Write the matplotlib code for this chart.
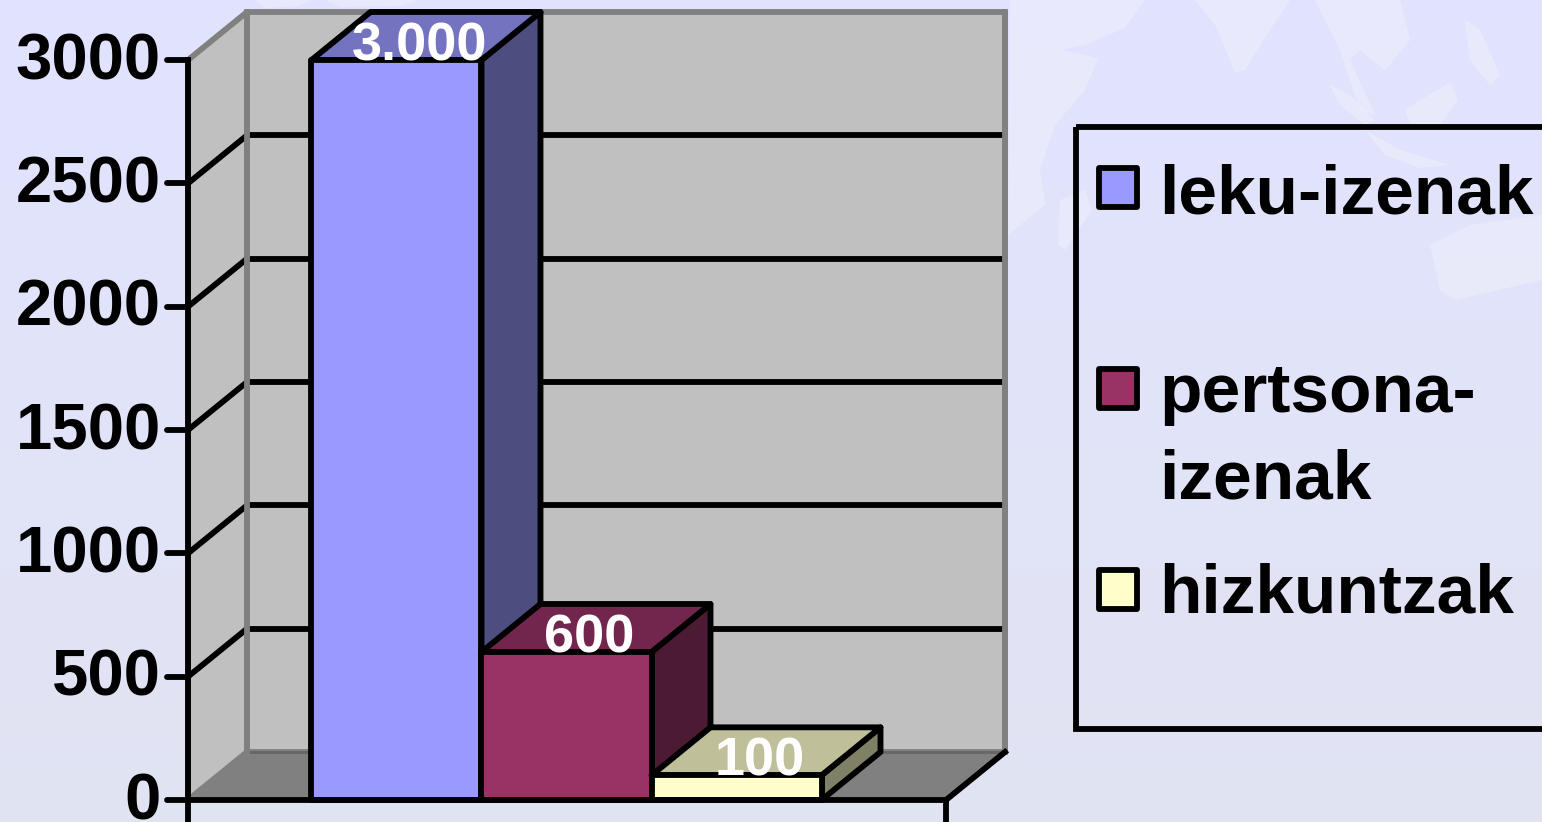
#!/usr/bin/env python3
"""3D-look column chart with legend box, drawn by hand on a flat axes."""

import matplotlib
matplotlib.use("Agg")
import matplotlib.pyplot as plt
import numpy as np
from matplotlib.patches import Polygon, Rectangle

W, H = 1542, 822

categories = [["leku-izenak"], ["pertsona-", "izenak"], ["hizkuntzak"]]
values = [3000, 600, 100]
value_labels = ["3.000", "600", "100"]
face_colors = ["#9999ff", "#993366", "#ffffcc"]
top_colors = ["#7373bf", "#73264d", "#bfbf99"]
side_colors = ["#4d4d80", "#4d1a33", "#808066"]
y_ticks = [0, 500, 1000, 1500, 2000, 2500, 3000]

plt.rcParams["font.family"] = ["Liberation Sans", "DejaVu Sans"]

X0 = 311.5             # pixel of the first column's left edge
PX_X = 170.0           # pixels per category slot
PX_Y = 740.0 / 3000.0  # pixels per value unit
DX = 59 / PX_X         # depth offset
DY = 48 / PX_Y
x_left = (188 - X0) / PX_X
x_right = (946 - X0) / PX_X
LW = 4.2

fig = plt.figure(figsize=(W / 100, H / 100), dpi=100)

# background
bg = fig.add_axes([0, 0, 1, 1], zorder=0)
bg.set_axis_off()
t = np.linspace(0, 1, 256)[:, None]
c0, c1 = np.array([0.886, 0.89, 1.0]), np.array([0.882, 0.894, 0.949])
bg.imshow(c0 + (c1 - c0) * t[:, :, None] * np.ones((256, 1, 3)), aspect="auto",
          extent=[0, W, H, 0])
land = [
    [(255, 0), (310, 0), (300, 6), (265, 8)],
    [(325, 0), (420, 0), (400, 6), (340, 7)],
    # Arabia and the Horn of Africa
    [(1010, 0), (1145, 0), (1125, 28), (1085, 45), (1060, 50), (1098, 58), (1085, 90), (1055, 125),
     (1040, 170), (1045, 205), (1020, 225), (1008, 235)],
    # India
    [(1195, 0), (1290, 0), (1270, 30), (1245, 70), (1235, 72), (1215, 25)],
    # south-east Asia
    [(1315, 0), (1400, 0), (1410, 40), (1385, 70), (1360, 50), (1350, 60), (1375, 115), (1360, 110),
     (1340, 50)],
    [(1330, 85), (1350, 95), (1375, 120), (1365, 125), (1340, 105)],
    [(1405, 110), (1450, 82), (1458, 100), (1440, 125), (1410, 125)],
    [(1465, 20), (1480, 30), (1500, 75), (1490, 85), (1470, 60)],
    [(1365, 130), (1400, 150), (1450, 165), (1420, 168), (1385, 155)],
    # Madagascar
    [(1060, 200), (1085, 190), (1092, 210), (1065, 250), (1058, 245)],
    # Australia
    [(1430, 245), (1470, 225), (1542, 215), (1542, 280), (1455, 300), (1440, 290)],
]
for pts in land:
    bg.add_patch(Polygon(pts, closed=True, fc="#eff0fb", ec="none", alpha=0.55))
bg.set_xlim(0, W)
bg.set_ylim(H, 0)

ax = fig.add_axes([0, 0, 1, 1], zorder=1)
ax.set_axis_off()
ax.patch.set_alpha(0)
ax.set_xlim(-X0 / PX_X, (W - X0) / PX_X)
ax.set_ylim(-(H - 800) / PX_Y, 800 / PX_Y)

ymax = max(y_ticks)
edge = "black"
wall_edge = "#808080"

# back wall, side wall, floor
ax.add_patch(Polygon([(x_left + DX, DY), (x_right + DX, DY), (x_right + DX, ymax + DY),
                      (x_left + DX, ymax + DY)], fc="#c0c0c0", ec=wall_edge, lw=LW,
                     joinstyle="round", zorder=1))
ax.add_patch(Polygon([(x_left, 0), (x_left + DX, DY), (x_left + DX, ymax + DY), (x_left, ymax)],
                     fc="#c0c0c0", ec=wall_edge, lw=LW, joinstyle="round", zorder=1))
ax.add_patch(Polygon([(x_left, 0), (x_right, 0), (x_right + DX, DY), (x_left + DX, DY)],
                     fc="#808080", ec="none", zorder=1.5))
ax.plot([x_left + DX, x_right + DX], [DY, DY], color="#666666", lw=2, zorder=1.6)

# grid lines on the walls
for v in y_ticks[1:-1]:
    ax.plot([x_left + DX, x_right + DX], [v + DY, v + DY], color=edge, lw=LW, zorder=2,
            solid_capstyle="butt")
    ax.plot([x_left, x_left + DX], [v, v + DY], color=edge, lw=LW, zorder=2,
            solid_capstyle="butt")

# redraw the wall corner over the grid line ends
ax.plot([x_left + DX, x_left + DX], [DY, ymax + DY], color=wall_edge, lw=LW, zorder=2.1)
ax.plot([x_right + DX, x_right + DX], [DY, ymax + DY], color=wall_edge, lw=LW, zorder=2.1)

# axis lines and ticks
ax.plot([x_left, x_left], [0, ymax], color=edge, lw=LW, zorder=3)
ax.plot([x_left, x_right], [0, 0], color=edge, lw=LW, zorder=9)
ax.plot([x_left, x_left + DX], [0, DY], color=wall_edge, lw=2, zorder=2.5)
ax.plot([x_right, x_right + DX], [0, DY], color=edge, lw=LW, zorder=3)
ax.plot([x_right, x_right], [0, -22 / PX_Y], color=edge, lw=LW, zorder=3)
ax.plot([x_left, x_left], [0, -22 / PX_Y], color=edge, lw=LW, zorder=3)
for v in y_ticks:
    ax.plot([x_left - 21 / PX_X, x_left], [v, v], color=edge, lw=LW, zorder=3,
            solid_capstyle="round")
    ax.text(x_left - 27 / PX_X, v - 19 / PX_Y, str(v), ha="right", va="baseline", fontsize=47,
            fontweight="bold", color="black", zorder=3)

# columns, back to front
for i in range(len(values)):
    v = values[i]
    z = 4 + i
    ax.add_patch(Polygon([(i + 1, 0), (i + 1 + DX, DY), (i + 1 + DX, v + DY), (i + 1, v)],
                         fc=side_colors[i], ec=edge, lw=LW, joinstyle="round", zorder=z))
    ax.add_patch(Polygon([(i, v), (i + 1, v), (i + 1 + DX, v + DY), (i + DX, v + DY)],
                         fc=top_colors[i], ec=edge, lw=LW, joinstyle="round", zorder=z))
    ax.add_patch(Rectangle((i, 0), 1, v, fc=face_colors[i], ec=edge, lw=LW,
                           joinstyle="round", zorder=z))
    ax.text(i + 0.5 + 23 / PX_X, v, value_labels[i], ha="center", va="baseline",
            fontsize=39, fontweight="bold", color="white", zorder=10)

# legend, placed in figure pixels
lg = fig.add_axes([0, 0, 1, 1], zorder=2)
lg.set_axis_off()
lg.patch.set_alpha(0)
lg.set_xlim(0, W)
lg.set_ylim(H, 0)
lg.add_patch(Rectangle((1076, 127), W, 602, fc="none", ec=edge, lw=LW))
legend_rows = [213, 412, 612]
swatch_rows = [168, 369, 570]
for lines, color, base, sy in zip(categories, face_colors, legend_rows, swatch_rows):
    lg.add_patch(Rectangle((1099, sy), 38, 39, fc=color, ec=edge, lw=LW, joinstyle="round"))
    for j, line in enumerate(lines):
        lg.text(1159, base + j * 86, line, ha="left", va="baseline", fontsize=50,
                fontweight="bold")

fig.savefig("out.png", dpi=100)
